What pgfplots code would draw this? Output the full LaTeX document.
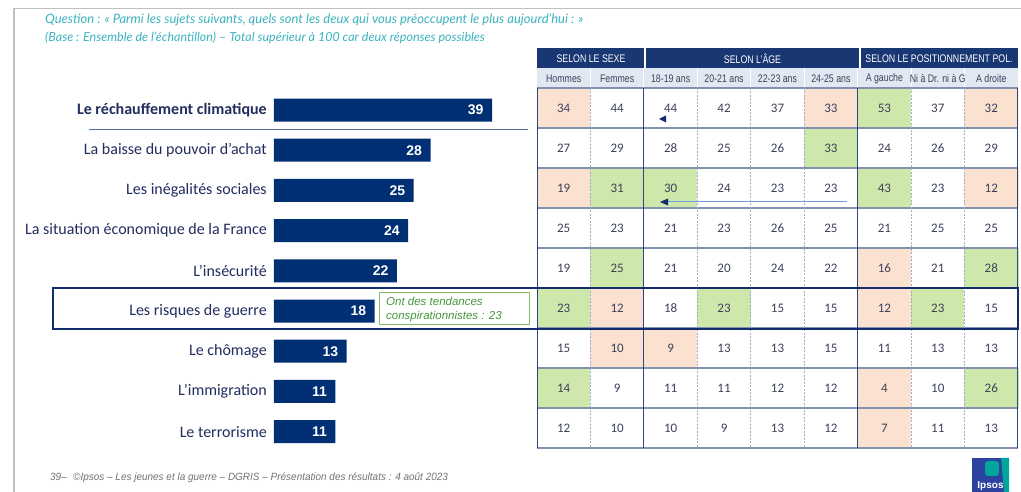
\documentclass[border=0pt]{standalone}
\usepackage{pgfplots}
\pgfplotsset{compat=1.18}
\usepackage{pgfplotstable}
\usepackage{fontspec}
\setmainfont{Carlito}
\newfontfamily\arialf{Liberation Sans}
\newfontfamily\narrowf[FakeStretch=0.8]{Liberation Sans}
\newfontfamily\footf[FakeStretch=0.95]{Liberation Sans}
\newfontfamily\titlef{Lato}
\definecolor{barc}{RGB}{0,48,115}
\definecolor{labelc}{RGB}{35,45,95}
\definecolor{hdr}{RGB}{25,55,115}
\definecolor{hdrtwo}{RGB}{225,232,242}
\definecolor{tabc}{RGB}{60,65,90}
\definecolor{gridc}{RGB}{130,145,175}
\definecolor{dashc}{RGB}{160,172,205}
\definecolor{grpc}{RGB}{45,70,125}
\definecolor{boxc}{RGB}{20,45,110}
\definecolor{ulc}{RGB}{80,110,170}
\definecolor{greenb}{RGB}{130,190,110}
\definecolor{greent}{RGB}{70,150,60}
\definecolor{titlec}{RGB}{60,180,190}
\definecolor{arrowl}{RGB}{110,160,225}
\definecolor{logob}{RGB}{45,65,160}
\definecolor{logot}{RGB}{0,165,155}
\pgfplotstableread{
x y c v
1 1 1 34
2 1 0 44
3 1 0 44
4 1 0 42
5 1 0 37
6 1 1 33
7 1 2 53
8 1 0 37
9 1 1 32
1 2 0 27
2 2 0 29
3 2 0 28
4 2 0 25
5 2 0 26
6 2 2 33
7 2 0 24
8 2 0 26
9 2 0 29
1 3 1 19
2 3 2 31
3 3 2 30
4 3 0 24
5 3 0 23
6 3 0 23
7 3 2 43
8 3 0 23
9 3 1 12
1 4 0 25
2 4 0 23
3 4 0 21
4 4 0 23
5 4 0 26
6 4 0 25
7 4 0 21
8 4 0 25
9 4 0 25
1 5 0 19
2 5 2 25
3 5 0 21
4 5 0 20
5 5 0 24
6 5 0 22
7 5 1 16
8 5 0 21
9 5 2 28
1 6 2 23
2 6 1 12
3 6 0 18
4 6 2 23
5 6 0 15
6 6 0 15
7 6 1 12
8 6 2 23
9 6 0 15
1 7 0 15
2 7 1 10
3 7 1 9
4 7 0 13
5 7 0 13
6 7 0 15
7 7 0 11
8 7 0 13
9 7 0 13
1 8 2 14
2 8 0 9
3 8 0 11
4 8 0 11
5 8 0 12
6 8 0 12
7 8 1 4
8 8 0 10
9 8 2 26
1 9 0 12
2 9 0 10
3 9 0 10
4 9 0 9
5 9 0 13
6 9 0 12
7 9 1 7
8 9 0 11
9 9 0 13
}\cells
\begin{document}
\begin{tikzpicture}[x=1pt,y=1pt]
\path[use as bounding box] (0,0) rectangle (1021,492);
\fill[white] (0,0) rectangle (1021,492);
\begin{scope}[yshift=492pt,yscale=-1]
\draw[black!25, line width=1.2pt] (14,492) -- (14,8.3) -- (1021,8.3);
\node[anchor=base west, inner sep=0pt, text=titlec, font=\titlef\itshape\fontsize{13}{15}\selectfont] at (45,24) {Question : « Parmi les sujets suivants, quels sont les deux qui vous préoccupent le plus aujourd’hui : »};
\node[anchor=base west, inner sep=0pt, text=titlec, font=\titlef\itshape\fontsize{12.5}{15}\selectfont] at (45,42) {(Base : Ensemble de l’échantillon) – Total supérieur à 100 car deux réponses possibles};
% header
\fill[hdr] (537,48) rectangle (1018,68);
\fill[hdrtwo] (537,68) rectangle (1018,88);
\draw[white, line width=1.5pt] (645,48) -- (645,68) (860,48) -- (860,68);
\foreach \j in {1,...,8} {\draw[white, line width=1pt] ({537+53.44*\j},68) -- ({537+53.44*\j},88);}
\begin{scope}[every node/.style={inner sep=0pt, anchor=center}]
\node[text=white, font=\narrowf\fontsize{11}{12}\selectfont] at (591,58.5) {SELON LE SEXE};
\node[text=white, font=\narrowf\fontsize{11}{12}\selectfont] at (752.5,58.5) {SELON L’ÂGE};
\node[text=white, font=\narrowf\fontsize{11}{12}\selectfont] at (939,58.5) {SELON LE POSITIONNEMENT POL.};
\foreach \j/\t in {1/Hommes,2/Femmes,3/18-19 ans,4/20-21 ans,5/22-23 ans,6/24-25 ans,7/A gauche,8/Ni à Dr. ni à G,9/A droite}
 {\node[text=tabc, font=\narrowf\fontsize{11}{12}\selectfont] at ({537+53.44*(\j-0.5)},78.5) {\t};}
\end{scope}
\end{scope}
% bar chart
\begin{axis}[at={(274pt,40.3pt)}, anchor=south west, width=251.55pt, height=361.8pt, scale only axis,
 xmin=0, xmax=45, ymin=0.5, ymax=9.5, y dir=reverse, xbar, bar width=23pt,
 axis line style={draw=none}, xtick=\empty, ytick={1,...,9}, major tick length=0pt,
 /pgf/number format/assume math mode=true,
 yticklabels={\textbf{Le réchauffement climatique},La baisse du pouvoir d’achat,Les inégalités sociales,La situation économique de la France,L’insécurité,Les risques de guerre,Le chômage,L’immigration,Le terrorisme},
 yticklabel style={font=\fontsize{16}{18}\selectfont, text=labelc, inner sep=0pt, xshift=-7pt},
 clip=false, nodes near coords,
 every node near coord/.append style={anchor=east, xshift=-5pt, text=white, font=\arialf\bfseries\fontsize{14}{16}\selectfont}]
\addplot[fill=barc, draw=none] coordinates {(39,1) (28,2) (25,3) (24,4) (22,5) (18,6) (13,7) (11,8) (11,9)};
\end{axis}
% table
\begin{axis}[at={(537pt,44pt)}, anchor=south west, width=481pt, height=360pt, scale only axis,
 xmin=0.5, xmax=9.5, ymin=0.5, ymax=9.5, y dir=reverse, hide axis, clip=false,
 colormap={cells}{rgb255=(255,255,255) rgb255=(251,225,208) rgb255=(205,232,170)},
 colormap access=direct]
\addplot[matrix plot*, mesh/cols=9, point meta=explicit] table[x=x,y=y,meta=c]{\cells};
\addplot[draw=none, nodes near coords, point meta=explicit symbolic,
 every node near coord/.style={anchor=center, inner sep=0pt, text=tabc, font=\fontsize{13}{15}\selectfont}] table[x=x,y=y,meta=v]{\cells};
\end{axis}
\begin{scope}[yshift=492pt,yscale=-1]
\foreach \k in {0,...,9} {\draw[gridc, line width=1.3pt] (537,{88+40*\k}) -- (1018,{88+40*\k});}
\foreach \j in {1,3,4,5,7,8} {\draw[dashc, line width=0.7pt, dash pattern=on 2pt off 1.5pt] ({537+53.44*\j},88) -- ({537+53.44*\j},448);}
\foreach \j in {0,2,6,9} {\draw[grpc, line width=1pt] ({537+53.44*\j},88) -- ({537+53.44*\j},448);}
\draw[boxc, line width=2pt] (53,288.5) rectangle (1018,329);
\draw[ulc, line width=1.3pt] (89,129.6) -- (528,129.6);
\draw[greenb, fill=white, line width=1pt] (379,293) rectangle (529,325);
\node[anchor=west, inner sep=0pt, align=left, text=greent, font=\arialf\itshape\fontsize{11.5}{14}\selectfont] at (386,310) {Ont des tendances\\conspirationnistes : 23};
\fill[boxc] (659,119) -- (666,115.5) -- (666,122.5) -- cycle;
\draw[arrowl, line width=1pt] (847,202) -- (667,202);
\fill[boxc] (660,202) -- (668,198.5) -- (668,205.5) -- cycle;
\node[anchor=base west, inner sep=0pt, text=black!55, font=\footf\itshape\fontsize{10.5}{12}\selectfont] at (50,481) {39–};
\node[anchor=base west, inner sep=0pt, text=black!55, font=\footf\itshape\fontsize{10.5}{12}\selectfont] at (73,481) {©Ipsos – Les jeunes et la guerre – DGRIS – Présentation des résultats : 4 août 2023};
\fill[logob] (972,458) rectangle (1009,492);
\fill[logot] (1001,458) -- (1009,458) -- (1009,492) -- (1004,492) -- cycle;
\fill[logot, rounded corners=3pt] (985,461) rectangle (999,476);
\node[anchor=base, inner sep=0pt, text=white, font=\arialf\bfseries\fontsize{10}{11}\selectfont] at (990.5,489) {Ipsos};
\end{scope}
\end{tikzpicture}
\end{document}
